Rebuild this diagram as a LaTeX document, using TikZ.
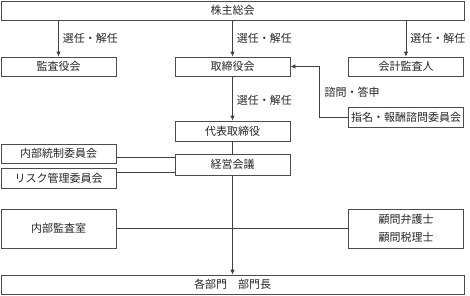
\documentclass[tikz,border=0pt]{standalone}
\usepackage{fontspec}
\setmainfont{Noto Sans CJK JP}
\usepackage{tikz}
\usetikzlibrary{arrows.meta,calc}
\tikzset{block/.style={draw=black!70, fill=white, rectangle, line width=0.8pt,
font=\fontsize{11}{14}\selectfont, text=black!85, inner sep=0pt,
minimum height=19pt, minimum width=115pt},
wideblock/.style={block, minimum width=463pt},
arrow/.style={draw=black!75, line width=0.8pt, -{Latex[length=5pt,width=4.5pt]}},
line/.style={draw=black!75, line width=0.8pt, -},
lbl/.style={font=\fontsize{11}{14}\selectfont, text=black!85, inner sep=2pt}}

\begin{document}
\begin{tikzpicture}[x=1pt, y=-1pt]
    \useasboundingbox (0,0) rectangle (470,295);
    % Boxes
    \node[wideblock] (soukai) at (232.5,10.5) {株主総会};
    \node[block] (kansayaku) at (58.5,66.5) {監査役会};
    \node[block] (torishimari) at (232.5,66.5) {取締役会};
    \node[block] (kaikei) at (406,66.5) {会計監査人};
    \node[block, minimum height=20pt] (shimei) at (406,117) {指名・報酬諮問委員会};
    \node[block, minimum height=20pt] (daihyo) at (232.5,131) {代表取締役};
    \node[block] (tousei) at (58.5,153.5) {内部統制委員会};
    \node[block, minimum height=21pt] (keiei) at (232.5,164.5) {経営会議};
    \node[block, minimum height=20pt] (risk) at (58.5,178) {リスク管理委員会};
    \node[block, minimum height=39pt] (naibukansa) at (58.5,228.5) {内部監査室};
    \node[block, minimum height=39pt, align=center, font=\fontsize{11}{18}\selectfont] (komon) at (406,228.5) {顧問弁護士\\顧問税理士};
    \node[wideblock] (bumon) at (232.5,284.5) {各部門　部門長};

    % Appointment arrows
    \draw[arrow] (kansayaku.north |- soukai.south) -- node[lbl, right, xshift=2pt] {選任・解任} (kansayaku.north);
    \draw[arrow] (torishimari.north |- soukai.south) -- node[lbl, right, xshift=2pt] {選任・解任} (torishimari.north);
    \draw[arrow] (kaikei.north |- soukai.south) -- node[lbl, right, xshift=2pt] {選任・解任} (kaikei.north);
    \draw[arrow] (torishimari.south) -- node[lbl, right, xshift=2pt, yshift=-1.5pt] {選任・解任} (daihyo.north);

    % Advisory committee
    \draw[arrow] (shimei.west) -- ++(-29,0) |- node[lbl, pos=0.25, right, xshift=3pt] {諮問・答申} (torishimari.east);

    % Management
    \draw[line] (daihyo.south) -- (keiei.north);
    \coordinate (t1) at ([yshift=-4pt]tousei.east);
    \coordinate (t2) at ([yshift=6pt]risk.east);
    \draw[line] (t1) -- (t1 -| keiei.west);
    \draw[line] (t2) -- (t2 -| keiei.west);
    \draw[line] (naibukansa.east) -- (komon.west);
    \draw[arrow] (keiei.south) -- (bumon.north);
\end{tikzpicture}
\end{document}
